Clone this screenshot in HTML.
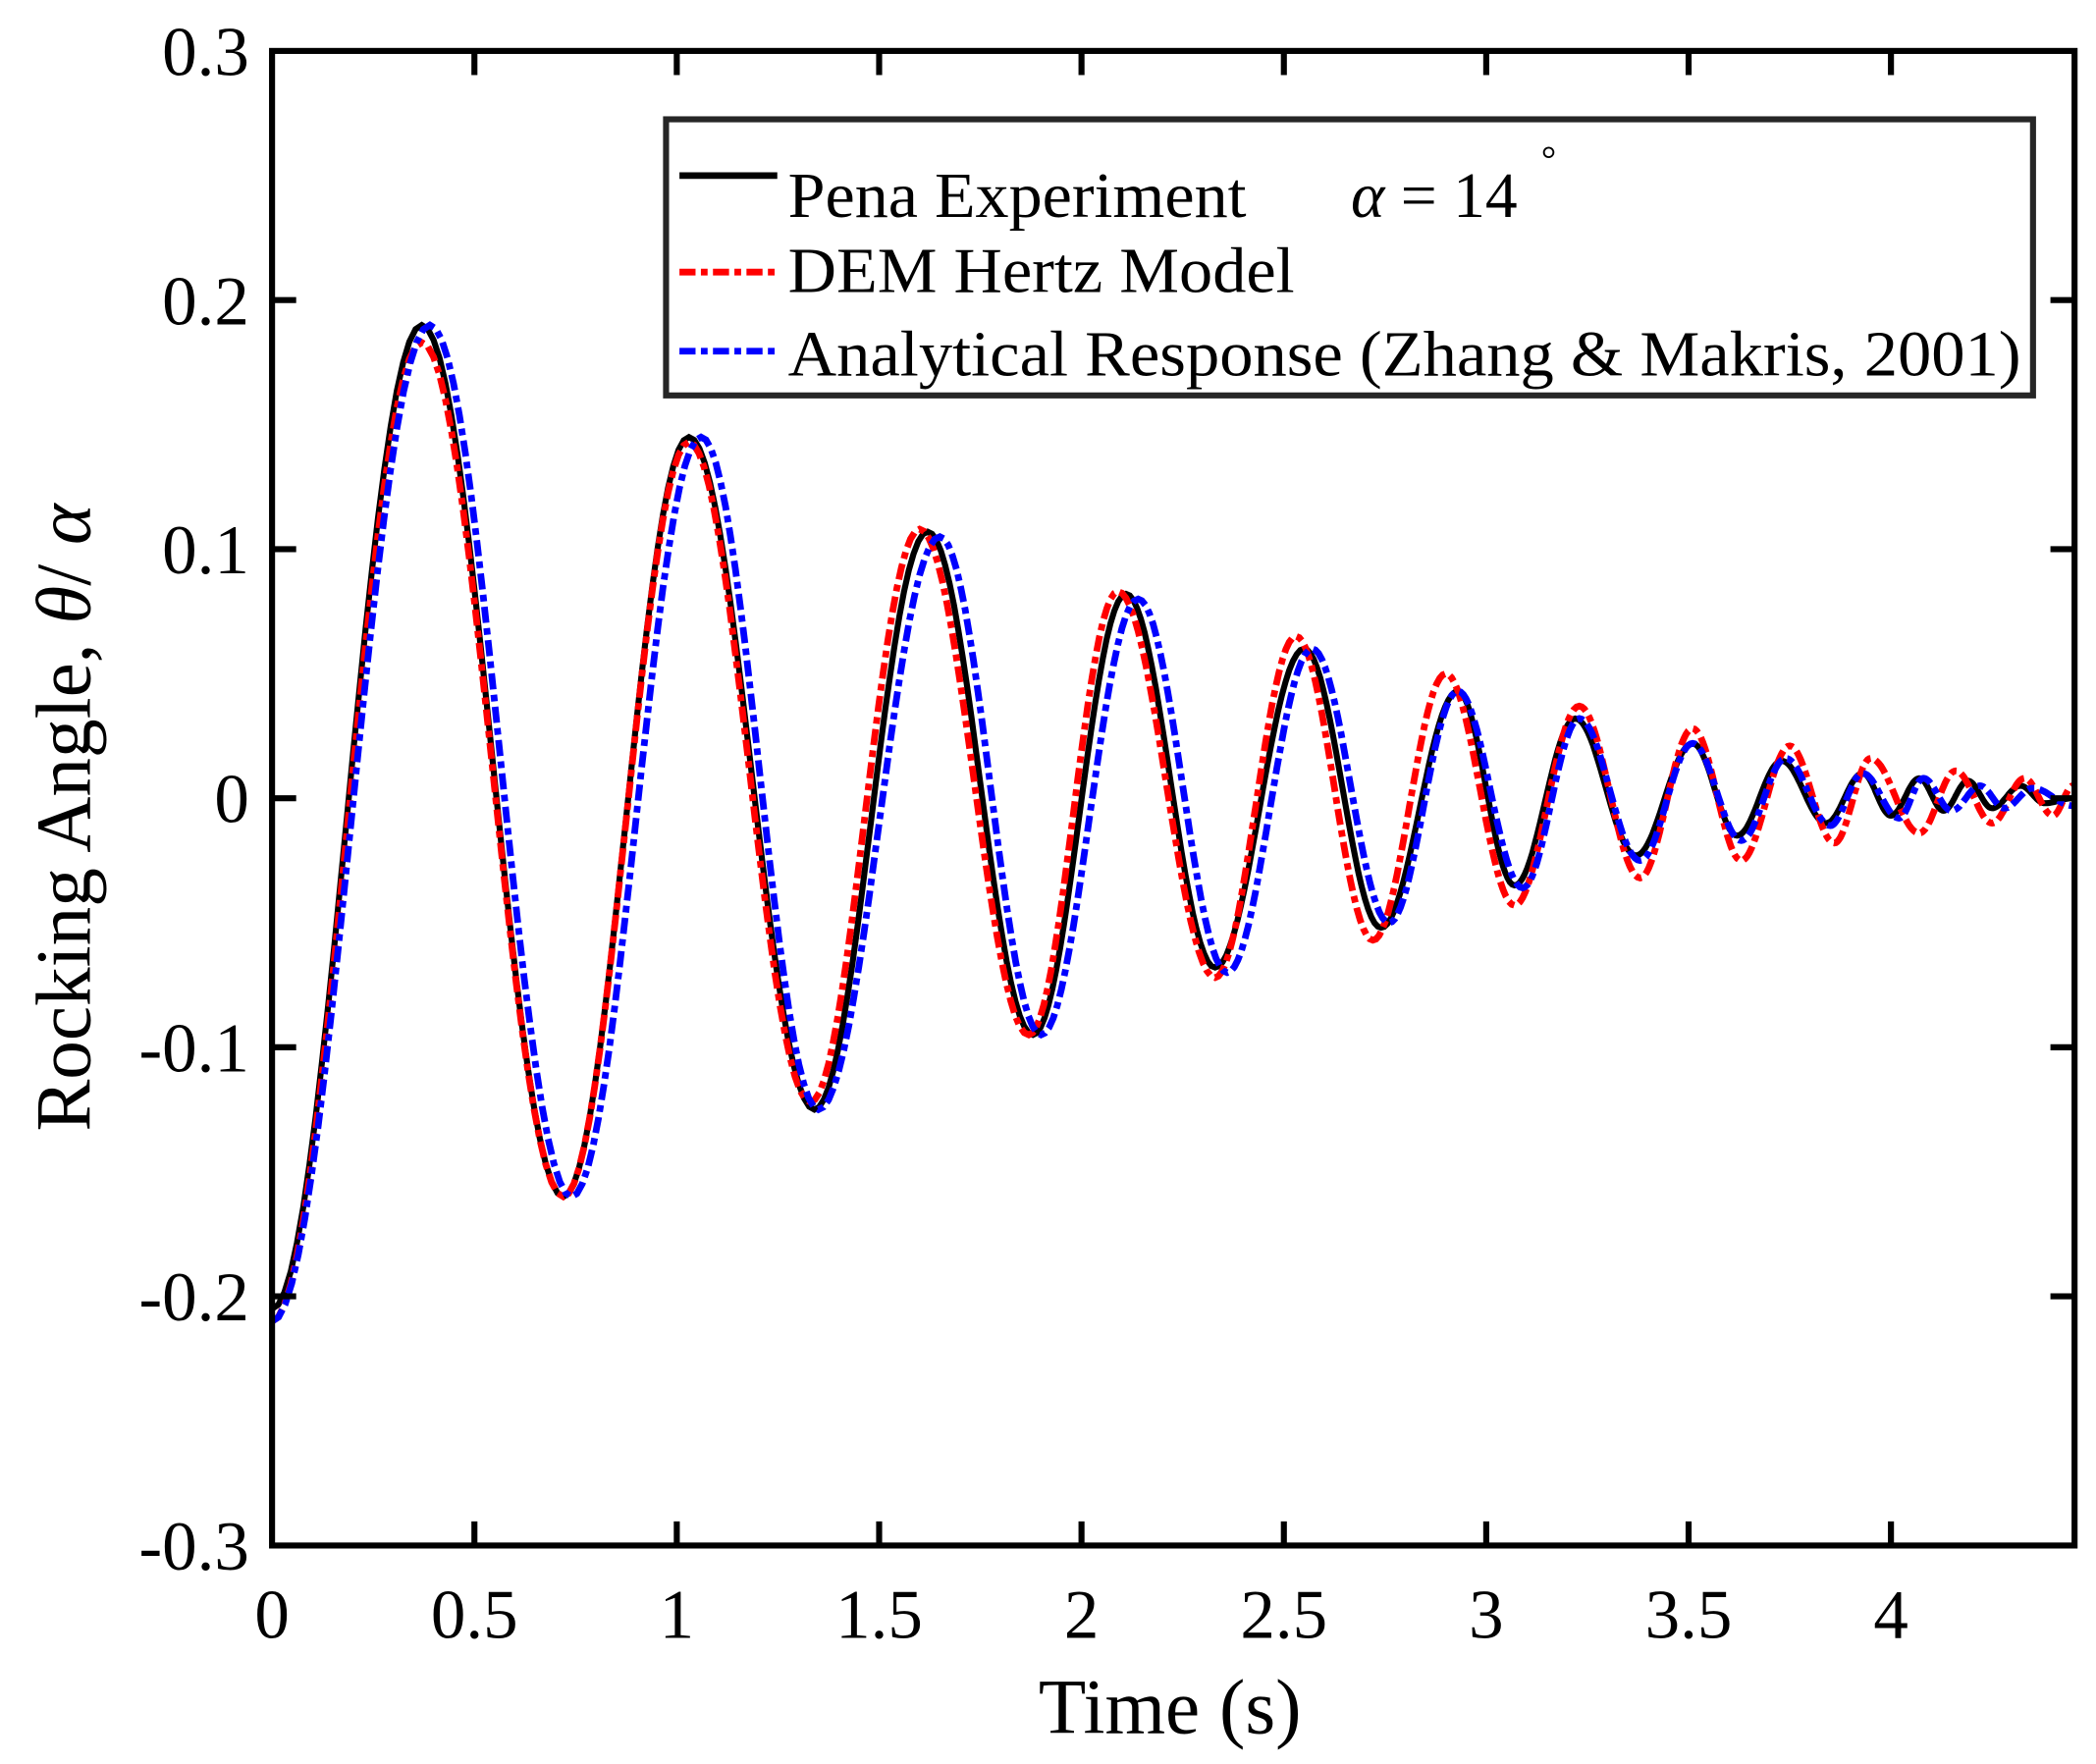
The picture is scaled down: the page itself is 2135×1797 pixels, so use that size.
<!DOCTYPE html>
<html><head><meta charset="utf-8"><style>
html,body{margin:0;padding:0;background:#fff;}
svg{display:block;}
text{font-family:"Liberation Serif",serif;fill:#000;}
</style></head><body>
<svg id="s" width="2135" height="1797" viewBox="0 0 1564 1316" preserveAspectRatio="none" xmlns="http://www.w3.org/2000/svg">
<rect width="1564" height="1316" fill="#fff"/>
<g id="curves"></g>
<g id="axes" stroke="#000" stroke-width="4.5" fill="none"></g>
<g id="labels" font-size="52"></g>
<text x="873" y="1293" font-size="58" text-anchor="middle">Time (s)</text>
<text transform="translate(67,610) rotate(-90)" font-size="58" text-anchor="middle">Rocking Angle, <tspan font-style="italic">θ</tspan>/ <tspan font-style="italic">α</tspan></text>
<rect x="497" y="89" width="1020" height="206" fill="#fff" stroke="#262626" stroke-width="4.5"/>
<line x1="507" y1="131" x2="580" y2="131" stroke="#000" stroke-width="5"/>
<line x1="507" y1="203" x2="580" y2="203" stroke="#f00" stroke-width="5" stroke-dasharray="12 4 5 4"/>
<line x1="507" y1="262" x2="580" y2="262" stroke="#00f" stroke-width="5" stroke-dasharray="12 4 5 4"/>
<g font-size="48">
<text x="588" y="162" textLength="342" lengthAdjust="spacingAndGlyphs">Pena Experiment</text>
<text x="1008" y="162"><tspan font-style="italic">α</tspan> = 14</text>
<text x="1150" y="128" font-size="28">°</text>
<text x="588" y="218" textLength="378" lengthAdjust="spacingAndGlyphs">DEM Hertz Model</text>
<text x="588" y="280" textLength="920" lengthAdjust="spacingAndGlyphs">Analytical Response (Zhang &amp; Makris, 2001)</text>
</g>
</svg>
<script>
var NS="http://www.w3.org/2000/svg";
function X(t){return 203+t*302;}
function Y(v){return 595.5-v*1858;}
function el(p,tag,a,txt){var e=document.createElementNS(NS,tag);for(var k in a)e.setAttribute(k,a[k]);if(txt!==undefined)e.textContent=txt;p.appendChild(e);return e;}
var ax=document.getElementById('axes');
el(ax,'rect',{x:203,y:38,width:1345,height:1115});
for(var i=1;i<=8;i++){var x=X(i*0.5);el(ax,'line',{x1:x,y1:1153,x2:x,y2:1135});el(ax,'line',{x1:x,y1:38,x2:x,y2:56});}
for(var j=-2;j<=2;j++){var y=Y(j*0.1);el(ax,'line',{x1:203,y1:y,x2:221,y2:y});el(ax,'line',{x1:1548,y1:y,x2:1530,y2:y});}
var lb=document.getElementById('labels');
var yl=['-0.3','-0.2','-0.1','0','0.1','0.2','0.3'];
for(var j=0;j<7;j++){el(lb,'text',{x:186,y:Y((j-3)*0.1)+18,'text-anchor':'end'},yl[j]);}
var xl=['0','0.5','1','1.5','2','2.5','3','3.5','4'];
for(var i=0;i<9;i++){el(lb,'text',{x:X(i*0.5),y:1222,'text-anchor':'middle'},xl[i]);}
function path(pts){var d='';for(var i=0;i<pts.length-1;i++){var a=pts[i],b=pts[i+1];var n=24;for(var k=0;k<=n;k++){if(i>0&&k==0)continue;var f=k/n;var t=a[0]+(b[0]-a[0])*f;var v=a[1]+(b[1]-a[1])*(1-Math.cos(Math.PI*f))/2;d+=(d?'L':'M')+X(t).toFixed(1)+','+Y(v).toFixed(1);}}return d;}
var black=[[0,-0.205],[0.37,0.19],[0.72,-0.16],[1.03,0.145],[1.34,-0.125],[1.62,0.107],[1.88,-0.095],[2.11,0.082],[2.33,-0.068],[2.55,0.06],[2.74,-0.052],[2.93,0.043],[3.07,-0.035],[3.22,0.032],[3.37,-0.023],[3.51,0.022],[3.62,-0.015],[3.73,0.015],[3.84,-0.01],[3.93,0.01],[4.0,-0.007],[4.07,0.008],[4.13,-0.005],[4.19,0.007],[4.25,-0.004],[4.32,0.005],[4.38,-0.002],[4.45,0]];
var red=[[0,-0.21],[0.37,0.183],[0.72,-0.16],[1.03,0.143],[1.33,-0.122],[1.60,0.108],[1.87,-0.095],[2.09,0.083],[2.33,-0.072],[2.53,0.065],[2.72,-0.057],[2.90,0.05],[3.07,-0.043],[3.23,0.037],[3.38,-0.032],[3.51,0.028],[3.63,-0.025],[3.75,0.021],[3.86,-0.018],[3.95,0.016],[4.07,-0.014],[4.16,0.011],[4.25,-0.01],[4.33,0.008],[4.40,-0.007],[4.45,0.005]];
var blue=[[0,-0.21],[0.39,0.19],[0.74,-0.16],[1.06,0.145],[1.35,-0.125],[1.65,0.105],[1.90,-0.095],[2.14,0.08],[2.36,-0.07],[2.57,0.06],[2.76,-0.05],[2.93,0.043],[3.09,-0.036],[3.23,0.032],[3.38,-0.025],[3.51,0.022],[3.63,-0.017],[3.74,0.016],[3.85,-0.011],[3.93,0.01],[4.02,-0.008],[4.08,0.008],[4.15,-0.005],[4.22,0.005],[4.28,-0.004],[4.35,0.004],[4.45,-0.003]];
var g=document.getElementById('curves');
el(g,'path',{d:path(black),stroke:'#000','stroke-width':4.5,fill:'none'});
el(g,'path',{d:path(red),stroke:'#f00','stroke-width':5,fill:'none','stroke-dasharray':'12 4 5 4'});
el(g,'path',{d:path(blue),stroke:'#00f','stroke-width':5,fill:'none','stroke-dasharray':'12 4 5 4'});
</script>
</body></html>
